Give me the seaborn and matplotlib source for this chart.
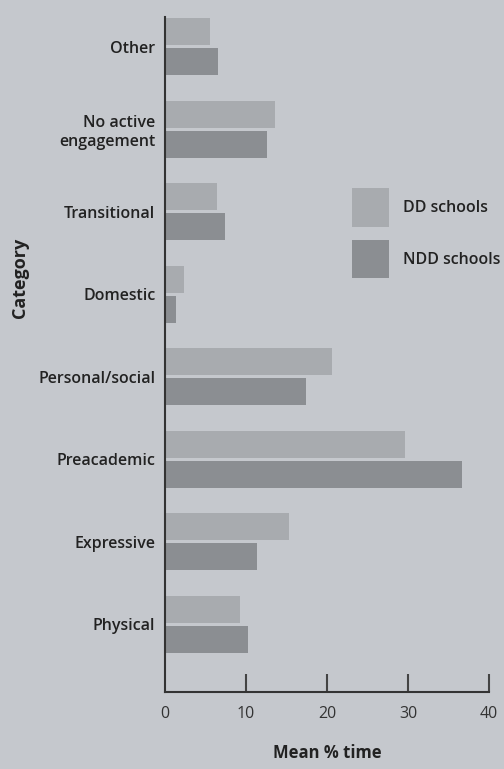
import numpy as np
import matplotlib
matplotlib.use("Agg")
import matplotlib.pyplot as plt
import pandas as pd
import seaborn as sns

categories = ["Other", "No active\nengagement", "Transitional", "Domestic",
              "Personal/social", "Preacademic", "Expressive", "Physical"]
dd_values = [5.6, 13.6, 6.4, 2.3, 20.6, 29.6, 15.3, 9.3]
ndd_values = [6.5, 12.6, 7.4, 1.3, 17.4, 36.7, 11.4, 10.3]
groups = ["DD schools", "NDD schools"]
xticks = [0, 10, 20, 30, 40]

df = pd.DataFrame({
    "Category": categories * 2,
    "Mean % time": dd_values + ndd_values,
    "School": [groups[0]] * len(categories) + [groups[1]] * len(categories),
})

bg = "#c5c8cd"
sns.set_theme(style="white", rc={"axes.facecolor": bg, "figure.facecolor": bg})
plt.rcParams["font.family"] = ["Open Sans", "DejaVu Sans"]

fig = plt.figure(figsize=(5.04, 7.69), dpi=100)
ax = fig.add_axes([165 / 504, 77 / 769, 324 / 504, 675 / 769])

sns.barplot(data=df, y="Category", x="Mean % time", hue="School", orient="h",
            palette=["#a8abaf", "#8b8e92"], width=0.73, gap=0.1,
            saturation=1, linewidth=0, ax=ax, legend=True)

ax.set_xlim(0, 40)
ax.set_ylim(7.82, -0.36)
ax.set_xticks(xticks)
ax.set_xticklabels([str(t) for t in xticks], fontsize=11.5, color="#333333")
ax.tick_params(axis="x", bottom=True, direction="in", length=13, width=1.5,
               color="#444444", pad=10)
ax.tick_params(axis="y", left=False, length=0, pad=7, labelsize=11.5, labelcolor="#222222")
for lbl in ax.get_yticklabels():
    lbl.set_fontweight("semibold")
ax.xaxis.get_major_ticks()[0].tick1line.set_visible(False)

for s in ["top", "right"]:
    ax.spines[s].set_visible(False)
for s in ["left", "bottom"]:
    ax.spines[s].set_color("#333333")
    ax.spines[s].set_linewidth(1.5)

ax.set_xlabel("Mean % time", fontsize=12, fontweight="bold", color="#222222", labelpad=16)
ax.set_ylabel("Category", fontsize=13, fontweight="bold", color="#222222")
ax.yaxis.set_label_coords(-0.42, 0.613)

leg = ax.legend(loc="upper left", bbox_to_anchor=(346 / 504, 1 - 182 / 769),
                bbox_transform=fig.transFigure, frameon=False, fontsize=11.5,
                handlelength=2.3, handleheight=3.3, labelspacing=0.85,
                handletextpad=0.85, borderaxespad=0)
for t in leg.get_texts():
    t.set_fontweight("semibold")
    t.set_color("#222222")

fig.savefig("out.png", dpi=100, facecolor=bg)
